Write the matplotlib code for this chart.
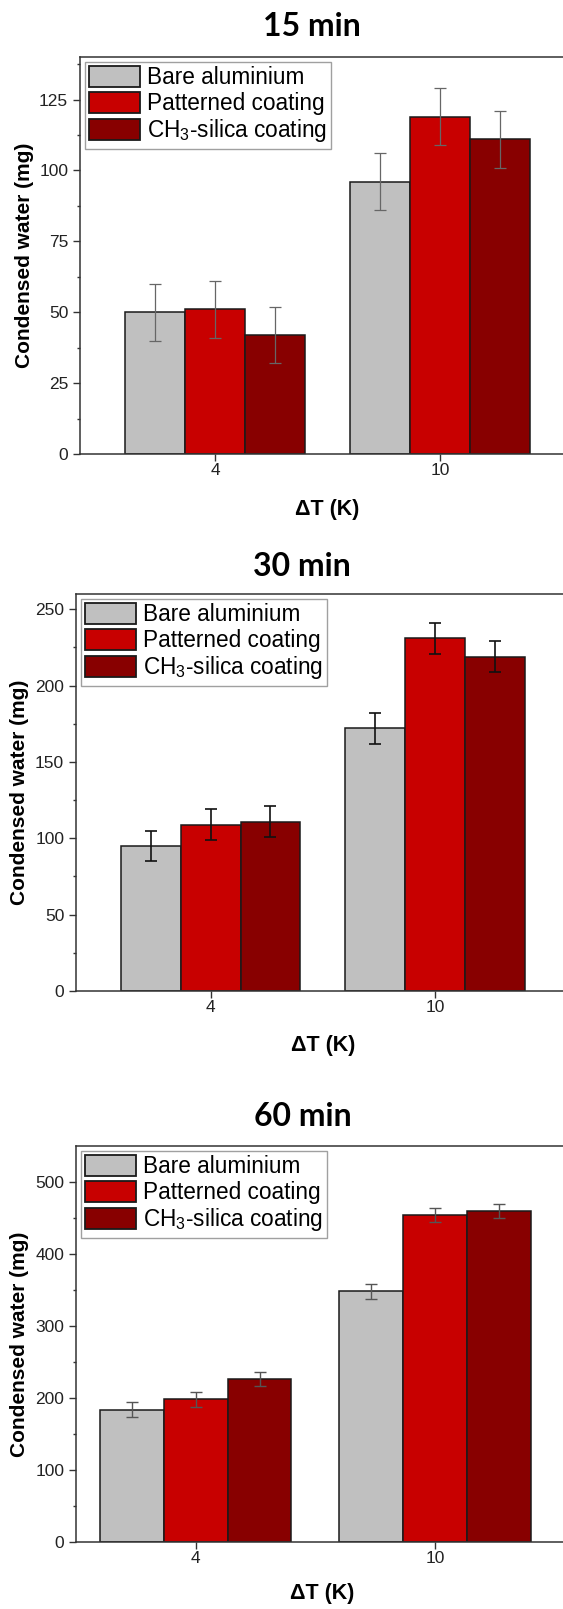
import matplotlib
matplotlib.use('Agg')
import matplotlib.pyplot as plt
import numpy as np

plt.rcParams['font.family'] = ['Liberation Sans', 'DejaVu Sans']
plt.rcParams['mathtext.fontset'] = 'custom'
plt.rcParams['mathtext.rm'] = 'Liberation Sans'
plt.rcParams['mathtext.it'] = 'Liberation Sans'

groups = [4, 10]
series = ['Bare aluminium', 'Patterned coating', 'CH$_3$-silica coating']
colors = ['#C0C0C0', '#C80000', '#880000']
titles = ['15 min', '30 min', '60 min']

# condensed water (mg), rows = series, cols = dT groups
vals_15 = [[50, 96], [51, 119], [42, 111]]
err_15 = [[10, 10], [10, 10], [10, 10]]
vals_30 = [[95, 172], [109, 231], [111, 219]]
err_30 = [[10, 10], [10, 10], [10, 10]]
vals_60 = [[184, 348], [198, 454], [226, 460]]
err_60 = [[10, 10], [10, 10], [10, 10]]

W, H = 563, 1609
fig = plt.figure(figsize=(W / 100, H / 100), dpi=100)

# layout of each panel, in pixels from the top-left corner
panels = [
    dict(v=vals_15, e=err_15, left=80, top=57, bot=454, xlim=(0.4, 13.6), ppu=37.5,
         ylim=(0, 140), major=25, minor=12.5, top_tick=125, ec='#666666', elw=0.9,
         ty=27, tx=312, xly=509, xlx=327, ylx=25),
    dict(v=vals_30, e=err_30, left=76, top=594, bot=991, xlim=(0.4, 13.6), ppu=37.4,
         ylim=(0, 260), major=50, minor=25, top_tick=250, ec='#111111', elw=1.2,
         ty=566, tx=302, xly=1045, xlx=323, ylx=20),
    dict(v=vals_60, e=err_60, left=76, top=1146, bot=1542, xlim=(1.0, 14.0), ppu=39.9,
         ylim=(0, 550), major=100, minor=50, top_tick=500, ec='#555555', elw=1.0,
         ty=1116, tx=303, xly=1594, xlx=322, ylx=20),
]

bw = 1.6
offsets = [-bw, 0, bw]
x = np.array(groups, dtype=float)

for i, p in enumerate(panels):
    width_px = (p['xlim'][1] - p['xlim'][0]) * p['ppu']
    ax = fig.add_axes([p['left'] / W, 1 - p['bot'] / H, width_px / W, (p['bot'] - p['top']) / H])
    handles = []
    for k in range(3):
        b = ax.bar(x + offsets[k], p['v'][k], width=bw, color=colors[k],
                   edgecolor='#1a1a1a', linewidth=1.1, label=series[k], zorder=2)
        ax.errorbar(x + offsets[k], p['v'][k], yerr=p['e'][k], fmt='none',
                    ecolor=p['ec'], elinewidth=p['elw'], capsize=4, capthick=p['elw'], zorder=3)
        handles.append(b)
    ax.set_xlim(*p['xlim'])
    ax.set_ylim(*p['ylim'])
    ax.set_xticks(groups)
    ax.set_xticklabels([str(g) for g in groups])
    ax.set_yticks(np.arange(0, p['top_tick'] + 1, p['major']))
    ax.set_yticks(np.arange(0, p['ylim'][1], p['minor']), minor=True)
    ax.tick_params(axis='both', which='major', direction='out', length=5, width=1,
                   color='#333333', labelsize=12.5, labelcolor='#222222')
    ax.tick_params(axis='y', which='major', pad=3.5)
    ax.tick_params(axis='x', which='major', pad=1.5)
    ax.tick_params(axis='y', which='minor', direction='out', length=2.5, width=1, color='#333333')
    ax.tick_params(axis='x', which='minor', bottom=False)
    for s in ['left', 'bottom', 'top', 'right']:
        ax.spines[s].set_color('#333333')
        ax.spines[s].set_linewidth(1.1)
    leg = ax.legend(handles=handles, loc='upper left', fontsize=16.3, frameon=True,
                    fancybox=False, edgecolor='#888888', borderpad=0.18, labelspacing=0.1,
                    handlelength=2.25, handleheight=1.08, handletextpad=0.3,
                    borderaxespad=0.22)
    leg.get_frame().set_linewidth(1.0)
    for h in leg.legend_handles:
        h.set_edgecolor('#1a1a1a')
        h.set_linewidth(1.3)

    fig.text(p['tx'] / W, 1 - p['ty'] / H, titles[i], ha='center', va='center',
             fontsize=23, fontweight='bold', family=['Lato', 'DejaVu Sans'])
    fig.text(p['xlx'] / W, 1 - p['xly'] / H, '\u0394T (K)', ha='center', va='center',
             fontsize=15.5, fontweight='bold')
    fig.text(p['ylx'] / W, 1 - (p['top'] + p['bot']) / 2 / H, 'Condensed water (mg)',
             ha='center', va='center', rotation=90, fontsize=15, fontweight='bold')

fig.savefig('out.png', dpi=100)
